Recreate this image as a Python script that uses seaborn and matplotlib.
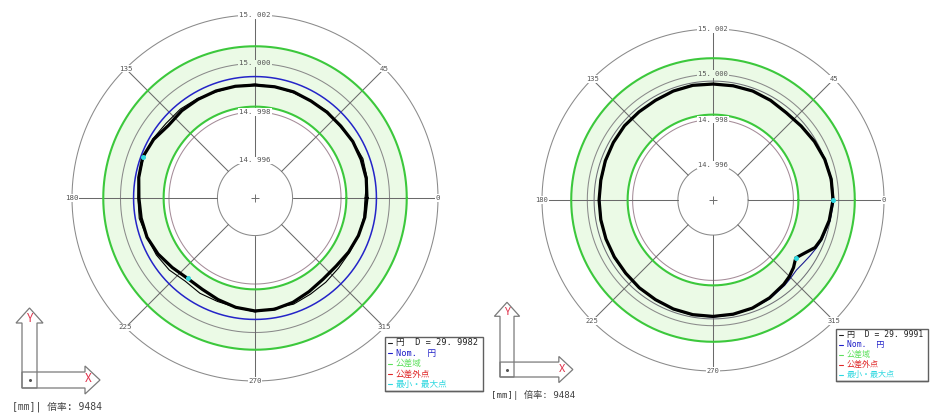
import numpy as np
import matplotlib
matplotlib.use("Agg")
import matplotlib.pyplot as plt
import seaborn as sns
from matplotlib.patches import Rectangle, Polygon
from matplotlib.lines import Line2D

sns.set_style("white")
plt.rcParams["font.family"] = ["Noto Sans CJK JP", "DejaVu Sans"]
MONO = ["DejaVu Sans Mono", "Noto Sans CJK JP"]

W, H = 938, 417

# ---- measured roundness profiles (radius in mm vs. angle in degrees) ----
left_angles = [0, 10, 20, 30, 40, 50, 60, 70, 80, 90, 100, 110, 120, 130, 140, 150, 160, 170,
               180, 190, 200, 210, 220, 230, 240, 250, 260, 270, 280, 290, 300, 310, 320, 330, 340, 350]
left_profile = [14.99907, 14.99911, 14.99911, 14.99911, 14.99907, 14.99907, 14.99907, 14.99911,
                14.99911, 14.99911, 14.99913, 14.99915, 14.99915, 14.99915, 14.99911, 14.99928,
                14.99938, 14.99932, 14.99924, 14.99922, 14.99919, 14.99907, 14.99891, 14.99878,
                14.99880, 14.99891, 14.99903, 14.99911, 14.99911, 14.99903, 14.99891, 14.99882,
                14.99882, 14.99891, 14.99899, 14.99905]
left_trace = [14.99899, 14.99915, 14.99919, 14.99911, 14.99903, 14.99911, 14.99907, 14.99907,
              14.99911, 14.99915, 14.99913, 14.99911, 14.99919, 14.99924, 14.99924, 14.99932,
              14.99934, 14.99932, 14.99928, 14.99930, 14.99919, 14.99915, 14.99907, 14.99893,
              14.99899, 14.99899, 14.99903, 14.99915, 14.99907, 14.99911, 14.99903, 14.99899,
              14.99895, 14.99895, 14.99899, 14.99901]

right_angles = [0, 10, 20, 30, 40, 50, 60, 70, 80, 90, 100, 110, 120, 130, 140, 150, 160, 170,
                180, 190, 200, 210, 220, 230, 240, 250, 260, 270, 280, 290, 300, 310, 315, 320,
                325, 330, 335, 340, 350]
right_profile = [14.99975, 14.99975, 14.99970, 14.99962, 14.99953, 14.99948, 14.99953, 14.99957,
                 14.99957, 14.99957, 14.99959, 14.99957, 14.99953, 14.99953, 14.99955, 14.99953,
                 14.99951, 14.99948, 14.99948, 14.99948, 14.99948, 14.99948, 14.99948, 14.99951,
                 14.99953, 14.99957, 14.99959, 14.99959, 14.99957, 14.99953, 14.99944, 14.99931,
                 14.99922, 14.99909, 14.99891, 14.99913, 14.99942, 14.99953, 14.99966]
right_trace = [14.99979, 14.99977, 14.99973, 14.99964, 14.99955, 14.99951, 14.99953, 14.99959,
               14.99959, 14.99959, 14.99962, 14.99959, 14.99955, 14.99955, 14.99957, 14.99953,
               14.99948, 14.99946, 14.99946, 14.99946, 14.99948, 14.99951, 14.99951, 14.99953,
               14.99955, 14.99959, 14.99962, 14.99962, 14.99959, 14.99955, 14.99948, 14.99937,
               14.99931, 14.99926, 14.99931, 14.99939, 14.99948, 14.99957, 14.99970]

# ---- chart furniture ----
grid_radii = [14.996, 14.998, 15.000, 15.002]
grid_labels = ["14. 996", "14. 998", "15. 000", "15. 002"]
grid_colors = ["#8a8a8a", "#a58c98", "#8a8a8a", "#8a8a8a"]
spoke_angles = [0, 45, 90, 135, 180, 225, 270, 315]
spoke_labels = ["0", "45", "", "135", "180", "225", "270", "315"]
tol_lower, tol_upper = 14.99822, 15.00071
r_origin = 14.99445
left_nominal = 14.99946
right_nominal = 14.99970

left_legend = ["円  D = 29. 9982", "Nom.  円", "公差域", "公差外点", "最小・最大点"]
right_legend = ["円  D = 29. 9991", "Nom.  円", "公差域", "公差外点", "最小・最大点"]
legend_colors = ["#202020", "#2020c8", "#5ee05e", "#e02828", "#30d8e0"]
scale_text = "[mm]| 倍率: 9484"

fig = plt.figure(figsize=(W / 100, H / 100), dpi=100)
fig.patch.set_facecolor("white")


def fx(x):
    return x / W


def fy(y):
    return 1 - y / H


def polar_panel(cx, cy, R, fs, nominal, nominal_color, nominal_lw,
                angles, profile, trace, trace_color, trace_lw):
    ax = fig.add_axes([fx(cx - R), fy(cy + R), 2 * R / W, 2 * R / H], projection="polar")
    ax.set_ylim(r_origin, grid_radii[-1])
    ax.set_axis_off()
    full = np.linspace(0, 2 * np.pi, 721)

    # tolerance zone
    ax.fill_between(full, tol_lower, tol_upper, color="#ebfae6", lw=0, zorder=0)
    for v in (tol_lower, tol_upper):
        ax.plot(full, np.full_like(full, v), color="#3cc83c", lw=1.5, zorder=2, clip_on=False)

    # grid rings
    for v, c in zip(grid_radii, grid_colors):
        ax.plot(full, np.full_like(full, v), color=c, lw=0.75, zorder=1, clip_on=False)

    # spokes
    for a in spoke_angles:
        t = np.deg2rad(a)
        ax.plot([t, t], [grid_radii[0], grid_radii[-1]], color="#6a6a6a", lw=0.75,
                zorder=1, clip_on=False)

    # nominal circle
    ax.plot(full, np.full_like(full, nominal), color=nominal_color, lw=nominal_lw,
            zorder=3, clip_on=False)

    # profiles
    th = np.deg2rad(angles + [360])
    sns.lineplot(x=th, y=trace + [trace[0]], sort=False, estimator=None, ax=ax,
                 color=trace_color, lw=trace_lw, zorder=4)
    sns.lineplot(x=th, y=profile + [profile[0]], sort=False, estimator=None, ax=ax,
                 color="black", lw=2.3, zorder=5)

    # min / max points
    imin, imax = int(np.argmin(profile)), int(np.argmax(profile))
    ax.plot(np.deg2rad([angles[imin], angles[imax]]), [profile[imin], profile[imax]],
            ls="none", marker="o", ms=2.6, color="#30d8e0", zorder=6)

    # center mark
    ax.plot(0, r_origin, marker="+", ms=6, mew=0.7, color="#707070", zorder=6)

    # ring labels
    for v, lab in zip(grid_radii, grid_labels):
        bg = "#ebfae6" if tol_lower < v < tol_upper else "white"
        ax.text(np.pi / 2, v, lab, ha="center", va="center", fontsize=fs, color="#555555",
                family=MONO, zorder=7, bbox=dict(facecolor=bg, edgecolor="none", pad=0.6))
    for a, lab in zip(spoke_angles, spoke_labels):
        if lab:
            ax.text(np.deg2rad(a), grid_radii[-1], lab, ha="center", va="center", fontsize=fs,
                    color="#555555", family=MONO, zorder=7,
                    bbox=dict(facecolor="white", edgecolor="none", pad=0.5))
    return ax


polar_panel(255, 198, 183, 5.4, left_nominal, "#2424c8", 1.1,
            left_angles, left_profile, left_trace, "black", 0.8)
polar_panel(713, 200, 171, 5.1, right_nominal, "#707078", 0.75,
            right_angles, right_profile, right_trace, "#1c1c90", 0.8)


def legend_box(x0, y0, x1, y1, first_y, step, texts, fs):
    fig.add_artist(Rectangle((fx(x0), fy(y1)), fx(x1 - x0), (y1 - y0) / H,
                             transform=fig.transFigure, facecolor="white",
                             edgecolor="#606060", lw=1.0, zorder=10))
    for i, (t, c) in enumerate(zip(texts, legend_colors)):
        y = first_y + i * step
        fig.add_artist(Line2D([fx(x0 + 3), fx(x0 + 7)], [fy(y), fy(y)], color=c, lw=0.8,
                              transform=fig.transFigure, zorder=11))
        fig.text(fx(x0 + 11), fy(y), t, color=c, fontsize=fs, ha="left", va="center",
                 family=MONO, zorder=11)
    fig.add_artist(Line2D([fx(x0), fx(x1)], [fy(y1), fy(y1)], color="#606060", lw=1.0,
                          transform=fig.transFigure, zorder=12))


legend_box(385, 337, 483, 391, 343, 10.3, left_legend, 6.2)
legend_box(836, 329, 928, 381, 334.5, 10.0, right_legend, 5.8)


def xy_icon(ox, oy, s, fs_axis, fs_text):
    def P(pts):
        return [(fx(ox + s * x), fy(oy + s * y)) for x, y in pts]

    vert = [(0, 0), (0, -65), (-6, -65), (7.5, -80), (21, -65), (15, -65), (15, 0)]
    horiz = [(0, -16), (63, -16), (63, -22), (78, -8), (63, 6), (63, 0), (0, 0)]
    for pts in (vert, horiz):
        fig.add_artist(Polygon(P(pts), closed=True, transform=fig.transFigure,
                               facecolor="none", edgecolor="#7a7a7a", lw=0.9))
    fig.add_artist(Line2D([fx(ox + s * 7.5)], [fy(oy - s * 8)], marker="o", ms=1.2,
                          color="#555555", transform=fig.transFigure))
    fig.text(fx(ox + s * 8), fy(oy - s * 70), "Y", color="#e0304a", fontsize=fs_axis,
             ha="center", va="center")
    fig.text(fx(ox + s * 66), fy(oy - s * 9), "X", color="#e0304a", fontsize=fs_axis,
             ha="center", va="center")
    fig.text(fx(ox - s * 10), fy(oy + s * 19), scale_text, color="#404040",
             fontsize=fs_text, ha="left", va="center", family=MONO)


xy_icon(22, 388, 1.0, 8.5, 7.0)
xy_icon(500, 377, 0.934, 8.0, 6.6)

fig.savefig("out.png", dpi=100, facecolor="white")
